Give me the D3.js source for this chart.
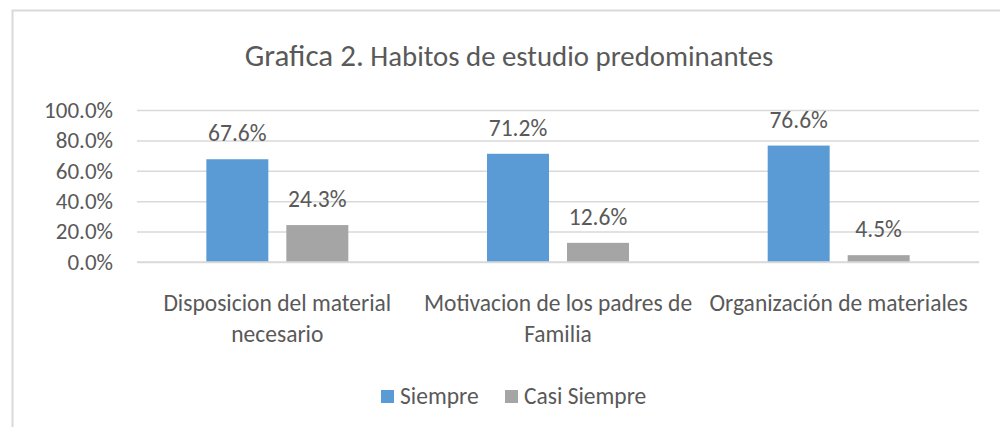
<!DOCTYPE html>
<html>
<head>
<meta charset="utf-8">
<script src="https://cdn.jsdelivr.net/npm/d3@7"></script>
<style>
  html, body { margin: 0; padding: 0; background: #fff; }
  svg { display: block; }
</style>
</head>
<body>
<div id="chart"></div>
<script>
// Grafica 2 - habitos de estudio, grouped bar chart

const categories = [
    'Disposicion del material necesario',
    'Motivacion de los padres de Familia',
    'Organización de materiales'
];
// how each category label breaks into lines
const categoryLines = [
    ['Disposicion del material', 'necesario'],
    ['Motivacion de los padres de', 'Familia'],
    ['Organización de materiales']
];
const seriesNames = ['Siempre', 'Casi Siempre'];
const siempre = [67.6, 71.2, 76.6];
const casiSiempre = [24.3, 12.6, 4.5];
const yTicks = [0, 20, 40, 60, 80, 100];

const W = 1000, H = 427;
const FONT = "Calibri, Carlito, 'Open Sans', sans-serif";
const TEXT = '#595959';
const colors = ['#5B9BD5', '#A5A5A5'];

const margin = { top: 110, right: 21, bottom: 165, left: 137 };
const innerW = W - margin.left - margin.right;
const innerH = H - margin.top - margin.bottom;

const svg = d3.select('#chart').append('svg')
    .attr('width', W).attr('height', H);

// chart frame (runs off right/bottom like the screenshot)
svg.append('rect')
    .attr('x', 12.5).attr('y', 10.5)
    .attr('width', 1100).attr('height', 600)
    .attr('fill', 'none').attr('stroke', '#d9d9d9').attr('stroke-width', 2);

// title
const title = svg.append('text')
    .attr('x', 509).attr('y', 66)
    .attr('text-anchor', 'middle')
    .attr('font-family', FONT).attr('fill', TEXT);
title.append('tspan').attr('font-size', '31px').text('Grafica 2.');
title.append('tspan').attr('font-size', '28.8px').text(' Habitos de estudio predominantes');

const g = svg.append('g').attr('transform', `translate(${margin.left},${margin.top})`);

const y = d3.scaleLinear().domain([0, 100]).range([innerH, 0]);
const x0 = d3.scaleBand().domain(categories).range([0, innerW]).padding(0);
const x1 = d3.scaleBand().domain(seriesNames).range([0, x0.bandwidth()])
    .paddingInner(0.225).paddingOuter(0.867);

// gridlines
g.append('g')
    .call(d3.axisLeft(y).tickValues(yTicks).tickSize(-innerW).tickFormat(''))
    .call(a => a.select('.domain').remove())
    .selectAll('line').attr('stroke', '#d9d9d9').attr('stroke-width', 1.5);

// y tick labels
g.append('g')
    .call(d3.axisLeft(y).tickValues(yTicks).tickSize(0).tickPadding(24)
        .tickFormat(d => d.toFixed(1) + '%'))
    .call(a => a.select('.domain').remove())
    .selectAll('text')
    .attr('font-family', FONT).attr('font-size', '23px').attr('fill', TEXT);

const rows = categories.map((c, i) => ({ cat: c, values: [siempre[i], casiSiempre[i]] }));

const groups = g.selectAll('.grp').data(rows).enter().append('g')
    .attr('transform', d => `translate(${x0(d.cat)},0)`);

const bars = groups.selectAll('.bar')
    .data(d => d.values.map((v, j) => ({ s: seriesNames[j], v, j })))
    .enter();

bars.append('rect')
    .attr('x', d => x1(d.s))
    .attr('y', d => y(d.v))
    .attr('width', x1.bandwidth())
    .attr('height', d => y(0) - y(d.v))
    .attr('fill', d => colors[d.j]);

bars.append('text')
    .attr('x', d => x1(d.s) + x1.bandwidth() / 2)
    .attr('y', d => y(d.v) - 18)
    .attr('text-anchor', 'middle')
    .attr('font-family', FONT).attr('font-size', '23.5px').attr('fill', TEXT)
    .text(d => d.v.toFixed(1) + '%');

// baseline over the bars
g.append('line')
    .attr('x1', 0).attr('x2', innerW)
    .attr('y1', y(0)).attr('y2', y(0))
    .attr('stroke', '#d9d9d9').attr('stroke-width', 1.5);

// category labels
const catLabels = g.append('g').selectAll('text').data(categories).enter().append('text')
    .attr('x', d => x0(d) + x0.bandwidth() / 2)
    .attr('y', 310.5 - margin.top)
    .attr('text-anchor', 'middle')
    .attr('font-family', FONT).attr('font-size', '23.5px').attr('fill', TEXT);
catLabels.each(function (d, i) {
    d3.select(this).selectAll('tspan').data(categoryLines[i]).enter().append('tspan')
        .attr('x', x0(d) + x0.bandwidth() / 2)
        .attr('dy', (_, k) => k === 0 ? 0 : 31)
        .text(t => t);
});

// legend
const legendX = [381, 505];
const legend = svg.append('g').selectAll('g').data(seriesNames).enter().append('g')
    .attr('transform', (d, i) => `translate(${legendX[i]},390)`);
legend.append('rect')
    .attr('width', 13).attr('height', 13)
    .attr('fill', (d, i) => colors[i]);
legend.append('text')
    .attr('x', 19).attr('y', 13.5)
    .attr('font-family', FONT).attr('font-size', '23.5px').attr('fill', TEXT)
    .text(d => d);
</script>
</body>
</html>
